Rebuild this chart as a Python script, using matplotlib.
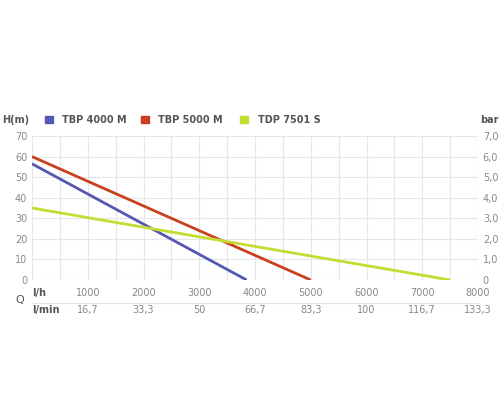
import numpy as np
from matplotlib import pyplot as plt

names = ['TBP 4000 M', 'TBP 5000 M', 'TDP 7501 S']
colors = ['#5558b0', '#c8401e', '#c6dc32']
flow = [[0, 3850], [0, 5000], [0, 7500]]
head = [[56.5, 0], [60, 0], [35, 0]]
lh_ticks = [1000, 2000, 3000, 4000, 5000, 6000, 7000, 8000]
lmin_labels = ['16,7', '33,3', '50', '66,7', '83,3', '100', '116,7', '133,3']
y_ticks = [0, 10, 20, 30, 40, 50, 60, 70]
bar_labels = ['0', '1,0', '2,0', '3,0', '4,0', '5,0', '6,0', '7,0']

grey = '#888888'
fig = plt.figure(figsize=(5, 4), dpi=100)
ax = fig.add_axes([0.064, 0.30, 0.892, 0.36])
for x, y, c in zip(flow, head, colors):
    ax.plot(x, y, color=c, lw=2, solid_capstyle='butt')
ax.set_xlim(0, 8000)
ax.set_ylim(0, 70)
ax.set_xticks(np.arange(0, 8001, 500))
ax.set_yticks(y_ticks)
ax.grid(color='#e6e6e6', lw=0.8)
for s in ax.spines.values():
    s.set_visible(False)
ax.tick_params(length=0, labelsize=7, colors=grey)
ax.set_xticklabels([])
ax.set_yticklabels([str(v) for v in y_ticks])
ax2 = ax.twinx()
ax2.set_ylim(0, 70)
ax2.set_yticks(y_ticks)
ax2.set_yticklabels(bar_labels)
ax2.tick_params(length=0, labelsize=7, colors=grey)
for s in ax2.spines.values():
    s.set_visible(False)

for v, lab in zip(lh_ticks, lmin_labels):
    ax.text(v, -6.3, str(v), ha='center', va='center', fontsize=7, color=grey)
    ax.text(v, -14.8, lab, ha='center', va='center', fontsize=7, color=grey)
ax.text(0, -6.3, 'l/h', ha='left', va='center', fontsize=7, color='#555555', fontweight='bold')
ax.text(0, -14.8, 'l/min', ha='left', va='center', fontsize=7, color='#555555', fontweight='bold')
ax.plot([0, 8000], [-11, -11], color='#e6e6e6', lw=0.8, clip_on=False)
fig.text(0.04, 0.25, 'Q', ha='center', va='center', fontsize=8, color='#555555')

fig.text(0.005, 0.70, 'H(m)', ha='left', va='center', fontsize=7, color='#555555', fontweight='bold')
fig.text(0.998, 0.70, 'bar', ha='right', va='center', fontsize=7, color='#555555', fontweight='bold')
lx = [0.09, 0.282, 0.48]
for x0, n, c in zip(lx, names, colors):
    fig.patches.append(plt.Rectangle((x0, 0.693), 0.016, 0.016, color=c, transform=fig.transFigure))
    fig.text(x0 + 0.035, 0.70, n, ha='left', va='center', fontsize=7, color='#555555', fontweight='bold')

fig.savefig('out.png', dpi=100)
